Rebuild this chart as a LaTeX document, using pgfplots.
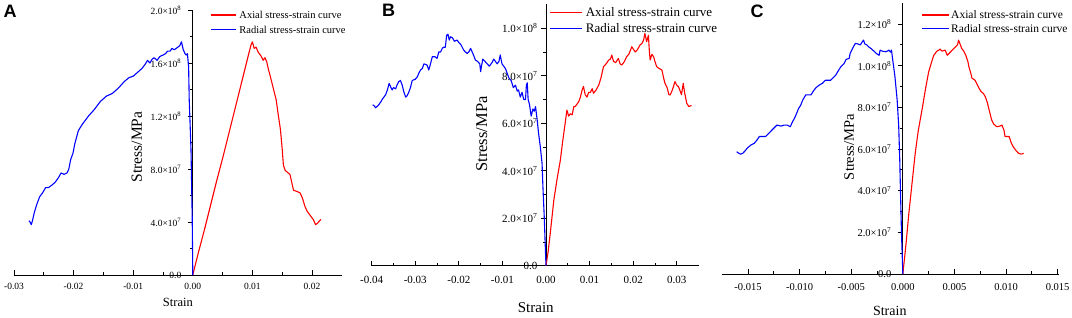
\documentclass[border=0pt]{standalone}
\usepackage{pgfplots}
\pgfplotsset{compat=1.18}
\usepackage{fontspec}
\setmainfont{Liberation Serif}
\newfontfamily\sansfont{Liberation Sans}
\pgfplotsset{
  panel/.style={
    scale only axis,
    anchor=south west,
    axis x line=bottom,
    axis y line=middle,
    axis line style={-, line width=0.9pt, draw=black},
    hide obscured x ticks=false,
    hide obscured y ticks=false,
    xtick align=inside,
    ytick align=outside,
    major tick length=5pt,
    minor tick length=3pt,
    minor tick num=1,
    tick style={draw=black, line width=0.8pt},
    ymin=0,
    scaled ticks=false,
    clip=false,
  },
  redline/.style={draw=red, line width=1.1pt, line join=round},
  blueline/.style={draw=blue, line width=1.1pt, line join=round},
  redkey/.style={draw=red, line width=1.4pt},
  bluekey/.style={draw=blue, line width=1.4pt},
}
\begin{document}
\begin{tikzpicture}
\path[use as bounding box] (0pt,0pt) rectangle (1072pt,317pt);
% ---------------- A ----------------
\begin{axis}[panel,
  at={(14pt,42pt)}, width=327.8pt, height=265pt,
  xmin=-0.03, xmax=0.025, ymax=2e8,
  xtick={-0.03,-0.02,-0.01,0,0.01,0.02},
  xticklabels={-0.03,-0.02,-0.01,0.00,0.01,0.02},
  ytick={0,4e7,8e7,1.2e8,1.6e8,2e8},
  yticklabels={0.0,4.0×10\textsuperscript{7},8.0×10\textsuperscript{7},1.2×10\textsuperscript{8},1.6×10\textsuperscript{8},2.0×10\textsuperscript{8}},
  tick label style={font=\fontsize{9.5}{11}\selectfont},
  xticklabel style={yshift=-5pt},
  yticklabel style={xshift=-3pt},
  xlabel={Strain}, ylabel={Stress/MPa},
  xlabel style={at={(axis description cs:0.500,-0.102)}, anchor=center, font=\fontsize{12.5}{14}\selectfont},
  ylabel style={at={(axis description cs:0.375,0.483)}, anchor=center, rotate=90, font=\fontsize{15.5}{17}\selectfont},
]
\addplot[redline] coordinates {
(0,0) (0.001,1.8e7) (0.002,3.5e7) (0.003,5.3e7) (0.004,7.1e7) (0.005,8.8e7) (0.006,1.06e8) (0.007,1.24e8) (0.008,1.42e8) (0.009,1.6e8) (0.0095,1.69e8) (0.0098,1.74e8) (0.0100,1.76e8) (0.0103,1.71e8) (0.0106,1.72e8) (0.0110,1.68e8) (0.0115,1.65e8) (0.0118,1.62e8) (0.0121,1.64e8) (0.0124,1.61e8) (0.0127,1.55e8) (0.0130,1.50e8) (0.0135,1.41e8) (0.0140,1.32e8) (0.0143,1.22e8) (0.0147,1.10e8) (0.0150,9.5e7) (0.0152,8.3e7) (0.0155,7.9e7) (0.0160,7.7e7) (0.0163,7.6e7) (0.0166,7.0e7) (0.0169,6.4e7) (0.0175,6.3e7) (0.0180,6.2e7) (0.0184,5.8e7) (0.0188,5.2e7) (0.0192,4.8e7) (0.0197,4.5e7) (0.0202,4.2e7) (0.0206,3.8e7) (0.0209,3.9e7) (0.0213,4.1e7) (0.0215,4.2e7)
};
\addplot[blueline] coordinates {
(0,0) (-0.0001,4.4e7) (-0.0003,9.4e7) (-0.0005,1.2e8) (-0.0006,1.32e8) (-0.0007,1.57e8) (-0.0009,1.67e8) (-0.0011,1.66e8) (-0.0013,1.67e8) (-0.0016,1.70e8) (-0.0019,1.76e8) (-0.0022,1.73e8) (-0.0025,1.72e8) (-0.0028,1.71e8) (-0.0031,1.70e8) (-0.0035,1.71e8) (-0.0038,1.69e8) (-0.0042,1.69e8) (-0.0046,1.67e8) (-0.0050,1.66e8) (-0.0055,1.65e8) (-0.0060,1.62e8) (-0.0065,1.64e8) (-0.0068,1.63e8) (-0.0072,1.60e8) (-0.0076,1.62e8) (-0.0080,1.59e8) (-0.0085,1.56e8) (-0.0090,1.54e8) (-0.0095,1.52e8) (-0.0100,1.50e8) (-0.0107,1.49e8) (-0.0115,1.46e8) (-0.0125,1.41e8) (-0.0135,1.37e8) (-0.0145,1.35e8) (-0.0155,1.31e8) (-0.0165,1.25e8) (-0.0175,1.20e8) (-0.0185,1.14e8) (-0.0192,1.09e8) (-0.0198,9.9e7) (-0.0201,9.2e7) (-0.0205,8.7e7) (-0.0208,8.0e7) (-0.0211,7.7e7) (-0.0216,7.6e7) (-0.0221,7.7e7) (-0.0226,7.3e7) (-0.0231,7.0e7) (-0.0236,6.8e7) (-0.0242,6.6e7) (-0.0247,6.6e7) (-0.0252,6.2e7) (-0.0257,5.9e7) (-0.0262,5.3e7) (-0.0266,4.7e7) (-0.0269,4.1e7) (-0.0271,3.8e7) (-0.0273,4.0e7) (-0.0275,4.1e7)
};
% legend keys
\addplot[redkey, forget plot] coordinates {(0.00308,1.962e8) (0.00728,1.962e8)};
\addplot[bluekey, forget plot] coordinates {(0.00308,1.853e8) (0.00728,1.853e8)};
\node[anchor=west, inner sep=0pt, font=\fontsize{10.5}{12}\selectfont] at (axis cs:0.0078,1.962e8) {Axial stress-strain curve};
\node[anchor=west, inner sep=0pt, font=\fontsize{10.5}{12}\selectfont] at (axis cs:0.0078,1.853e8) {Radial stress-strain curve};
\end{axis}
% ---------------- B ----------------
\begin{axis}[panel,
  at={(371.7pt,51.3pt)}, width=326.8pt, height=261.25pt,
  xmin=-0.04, xmax=0.035, ymax=1.1e8,
  xtick={-0.04,-0.03,-0.02,-0.01,0,0.01,0.02,0.03},
  xticklabels={-0.04,-0.03,-0.02,-0.01,0.00,0.01,0.02,0.03},
  ytick={0,2e7,4e7,6e7,8e7,1e8},
  yticklabels={0.0,2.0×10\textsuperscript{7},4.0×10\textsuperscript{7},6.0×10\textsuperscript{7},8.0×10\textsuperscript{7},1.0×10\textsuperscript{8}},
  tick label style={font=\fontsize{11}{12}\selectfont},
  xticklabel style={yshift=-7pt},
  yticklabel style={xshift=0pt},
  xlabel={Strain}, ylabel={Stress/MPa},
  xlabel style={at={(axis description cs:0.502,-0.162)}, anchor=center, font=\fontsize{15}{17}\selectfont},
  ylabel style={at={(axis description cs:0.337,0.504)}, anchor=center, rotate=90, font=\fontsize{16.5}{18}\selectfont},
]
\addplot[redline] coordinates {
(0,0) (0.0005,0.6e7) (0.0010,1.4e7) (0.0018,2.76e7) (0.0025,3.6e7) (0.0033,4.45e7) (0.0038,5.2e7) (0.0044,6.0e7) (0.0048,6.55e7) (0.0052,6.3e7) (0.0056,6.4e7) (0.0060,6.35e7) (0.0064,6.7e7) (0.0067,6.7e7) (0.0071,6.8e7) (0.0075,6.9e7) (0.0079,7.1e7) (0.0083,7.4e7) (0.0086,7.55e7) (0.0090,7.2e7) (0.0094,7.1e7) (0.0098,7.3e7) (0.0102,7.3e7) (0.0106,7.45e7) (0.0109,7.26e7) (0.0115,7.4e7) (0.0121,7.6e7) (0.0126,7.9e7) (0.0132,8.38e7) (0.0138,8.5e7) (0.0144,8.66e7) (0.0148,8.7e7) (0.0151,8.87e7) (0.0155,8.6e7) (0.0160,8.55e7) (0.0166,8.73e7) (0.0170,8.5e7) (0.0174,8.45e7) (0.0180,8.6e7) (0.0185,8.8e7) (0.0190,8.9e7) (0.0197,9.22e7) (0.0201,9.1e7) (0.0205,9.0e7) (0.0210,9.1e7) (0.0216,9.3e7) (0.0220,9.35e7) (0.0224,9.5e7) (0.0227,9.78e7) (0.0231,9.43e7) (0.0235,9.7e7) (0.0237,9.1e7) (0.0239,8.66e7) (0.0243,8.9e7) (0.0247,8.8e7) (0.0250,8.6e7) (0.0254,8.38e7) (0.0260,8.3e7) (0.0266,8.24e7) (0.0270,7.9e7) (0.0273,7.68e7) (0.0278,7.5e7) (0.0282,7.2e7) (0.0285,7.19e7) (0.0290,7.4e7) (0.0296,7.75e7) (0.0300,7.6e7) (0.0304,7.54e7) (0.0308,7.35e7) (0.0311,7.2e7) (0.0315,7.68e7) (0.0318,7.3e7) (0.0323,6.84e7) (0.0328,6.7e7) (0.0334,6.75e7)
};
\addplot[blueline] coordinates {
(0,0) (-0.0002,1.0e7) (-0.0004,2.06e7) (-0.0007,3.3e7) (-0.0009,4.3e7) (-0.0013,5.0e7) (-0.0017,5.57e7) (-0.0020,6.1e7) (-0.0022,6.4e7) (-0.0024,6.7e7) (-0.0027,6.5e7) (-0.0030,6.6e7) (-0.0034,6.3e7) (-0.0038,6.8e7) (-0.0041,7.0e7) (-0.0043,7.7e7) (-0.0045,7.6e7) (-0.0047,7.0e7) (-0.0051,7.0e7) (-0.0055,7.3e7) (-0.0059,7.1e7) (-0.0063,7.4e7) (-0.0066,7.35e7) (-0.0070,7.6e7) (-0.0075,7.5e7) (-0.0080,7.8e7) (-0.0085,7.9e7) (-0.0089,8.1e7) (-0.0093,8.3e7) (-0.0097,8.4e7) (-0.0101,8.5e7) (-0.0105,8.87e7) (-0.0108,8.6e7) (-0.0112,8.5e7) (-0.0116,8.6e7) (-0.0120,8.7e7) (-0.0124,8.55e7) (-0.0130,8.4e7) (-0.0135,8.5e7) (-0.0140,8.6e7) (-0.0145,8.7e7) (-0.0148,8.4e7) (-0.0150,8.17e7) (-0.0152,8.5e7) (-0.0157,8.6e7) (-0.0162,8.66e7) (-0.0167,8.9e7) (-0.0173,9.15e7) (-0.0177,9.0e7) (-0.0181,8.94e7) (-0.0185,9.0e7) (-0.0189,9.08e7) (-0.0195,9.3e7) (-0.0200,9.4e7) (-0.0204,9.5e7) (-0.0210,9.45e7) (-0.0215,9.6e7) (-0.0219,9.64e7) (-0.0222,9.5e7) (-0.0225,9.75e7) (-0.0228,9.7e7) (-0.0231,9.2e7) (-0.0235,9.2e7) (-0.0238,9.15e7) (-0.0242,9.0e7) (-0.0246,9.0e7) (-0.0250,8.73e7) (-0.0255,8.8e7) (-0.0261,8.8e7) (-0.0265,8.5e7) (-0.0269,8.24e7) (-0.0273,8.45e7) (-0.0280,8.5e7) (-0.0284,8.3e7) (-0.0288,8.24e7) (-0.0292,8.1e7) (-0.0295,7.96e7) (-0.0300,7.85e7) (-0.0307,7.8e7) (-0.0311,7.5e7) (-0.0315,7.3e7) (-0.0319,7.15e7) (-0.0322,7.1e7) (-0.0326,7.3e7) (-0.0330,7.6e7) (-0.0334,7.8e7) (-0.0338,7.75e7) (-0.0342,7.6e7) (-0.0345,7.45e7) (-0.0350,7.5e7) (-0.0353,7.4e7) (-0.0357,7.55e7) (-0.0360,7.68e7) (-0.0364,7.4e7) (-0.0368,7.2e7) (-0.0372,7.1e7) (-0.0376,7.0e7) (-0.0379,6.9e7) (-0.0385,6.75e7) (-0.0391,6.65e7) (-0.0395,6.75e7) (-0.0398,6.77e7)
};
\addplot[redkey, forget plot] coordinates {(0.00099,1.067e8) (0.00833,1.067e8)};
\addplot[bluekey, forget plot] coordinates {(0.00099,0.9996e8) (0.00833,0.9996e8)};
\node[anchor=west, inner sep=0pt, font=\fontsize{13}{14}\selectfont] at (axis cs:0.0091,1.067e8) {Axial stress-strain curve};
\node[anchor=west, inner sep=0pt, font=\fontsize{13}{14}\selectfont] at (axis cs:0.0091,0.9996e8) {Radial stress-strain curve};
\end{axis}
% ---------------- C ----------------
\begin{axis}[panel,
  at={(722.2pt,43pt)}, width=336.5pt, height=270.8pt,
  xmin=-0.0175, xmax=0.0151, ymax=1.3e8,
  xtick={-0.015,-0.01,-0.005,0,0.005,0.01,0.015},
  xticklabels={-0.015,-0.010,-0.005,0.000,0.005,0.010,0.015},
  ytick={0,2e7,4e7,6e7,8e7,1e8,1.2e8},
  yticklabels={0.0,2.0×10\textsuperscript{7},4.0×10\textsuperscript{7},6.0×10\textsuperscript{7},8.0×10\textsuperscript{7},1.0×10\textsuperscript{8},1.2×10\textsuperscript{8}},
  tick label style={font=\fontsize{10.5}{12}\selectfont},
  xticklabel style={yshift=-6pt},
  yticklabel style={xshift=-3pt},
  xlabel={Strain}, ylabel={Stress/MPa},
  xlabel style={at={(axis description cs:0.498,-0.1355)}, anchor=center, font=\fontsize{14}{16}\selectfont},
  ylabel style={at={(axis description cs:0.377,0.469)}, anchor=center, rotate=90, font=\fontsize{14.5}{16}\selectfont},
]
\addplot[redline] coordinates {
(0,0) (0.0003,1.4e7) (0.00058,2.9e7) (0.0009,4.4e7) (0.0012,5.8e7) (0.0015,6.9e7) (0.0019,8.0e7) (0.0022,8.9e7) (0.0025,9.7e7) (0.0028,1.02e8) (0.0030,1.05e8) (0.0033,1.07e8) (0.0035,1.075e8) (0.0036,1.08e8) (0.0038,1.07e8) (0.0041,1.075e8) (0.0043,1.05e8) (0.0045,1.06e8) (0.0048,1.075e8) (0.0051,1.09e8) (0.0053,1.10e8) (0.0054,1.123e8) (0.0055,1.11e8) (0.0057,1.083e8) (0.0059,1.07e8) (0.0061,1.05e8) (0.0063,1.02e8) (0.0064,9.95e7) (0.0066,9.6e7) (0.0067,9.4e7) (0.0070,9.3e7) (0.0072,9.1e7) (0.0074,8.9e7) (0.0076,8.75e7) (0.0078,8.67e7) (0.0080,8.5e7) (0.0082,8.2e7) (0.0084,7.8e7) (0.0086,7.4e7) (0.0088,7.2e7) (0.0091,7.07e7) (0.0094,7.1e7) (0.0096,7.15e7) (0.0098,6.9e7) (0.0099,6.6e7) (0.0101,6.6e7) (0.0103,6.6e7) (0.0105,6.3e7) (0.0107,6.1e7) (0.0110,5.9e7) (0.0112,5.8e7) (0.0115,5.75e7) (0.0117,5.8e7)
};
\addplot[blueline] coordinates {
(0,0) (-0.00013,1.95e7) (-0.00023,4.0e7) (-0.0003,5.5e7) (-0.0004,7.1e7) (-0.00055,8.35e7) (-0.00077,9.5e7) (-0.0010,1.035e8) (-0.0011,1.075e8) (-0.0012,1.065e8) (-0.00135,1.075e8) (-0.0015,1.07e8) (-0.0017,1.067e8) (-0.0020,1.07e8) (-0.0022,1.075e8) (-0.0023,1.05e8) (-0.0026,1.06e8) (-0.0028,1.07e8) (-0.0031,1.083e8) (-0.0033,1.09e8) (-0.0035,1.1e8) (-0.0037,1.105e8) (-0.0038,1.123e8) (-0.0040,1.11e8) (-0.0041,1.1e8) (-0.0044,1.105e8) (-0.0046,1.107e8) (-0.0048,1.09e8) (-0.0051,1.06e8) (-0.0052,1.035e8) (-0.0055,1.03e8) (-0.0057,1.01e8) (-0.0060,9.95e7) (-0.0062,9.8e7) (-0.0065,9.55e7) (-0.0068,9.4e7) (-0.0070,9.3e7) (-0.0073,9.3e7) (-0.0075,9.3e7) (-0.0078,9.15e7) (-0.0081,9.07e7) (-0.0084,8.95e7) (-0.0086,8.83e7) (-0.0089,8.6e7) (-0.0092,8.6e7) (-0.0094,8.6e7) (-0.0097,8.35e7) (-0.0099,8.1e7) (-0.0101,7.95e7) (-0.0103,7.7e7) (-0.0105,7.47e7) (-0.0107,7.3e7) (-0.0109,7.07e7) (-0.0112,7.15e7) (-0.0115,7.15e7) (-0.0118,7.1e7) (-0.0122,7.15e7) (-0.0125,7.0e7) (-0.0128,6.85e7) (-0.0130,6.75e7) (-0.0133,6.6e7) (-0.0136,6.6e7) (-0.0139,6.6e7) (-0.0141,6.45e7) (-0.0144,6.27e7) (-0.0147,6.2e7) (-0.0151,6.03e7) (-0.0153,5.9e7) (-0.0155,5.8e7) (-0.0157,5.75e7) (-0.0159,5.8e7) (-0.0161,5.87e7)
};
\addplot[redkey, forget plot] coordinates {(0.00186,1.2433e8) (0.00447,1.2433e8)};
\addplot[bluekey, forget plot] coordinates {(0.00186,1.1795e8) (0.00447,1.1795e8)};
\node[anchor=west, inner sep=0pt, font=\fontsize{11.5}{13}\selectfont] at (axis cs:0.00467,1.2433e8) {Axial stress-strain curve};
\node[anchor=west, inner sep=0pt, font=\fontsize{11.5}{13}\selectfont] at (axis cs:0.00467,1.1795e8) {Radial stress-strain curve};
\end{axis}
\node[font=\sansfont\bfseries\fontsize{18}{18}\selectfont] at (10pt,306pt) {A};
\node[font=\sansfont\bfseries\fontsize{18}{18}\selectfont] at (388.5pt,307pt) {B};
\node[font=\sansfont\bfseries\fontsize{18}{18}\selectfont] at (757pt,305.5pt) {C};
\end{tikzpicture}
\end{document}
